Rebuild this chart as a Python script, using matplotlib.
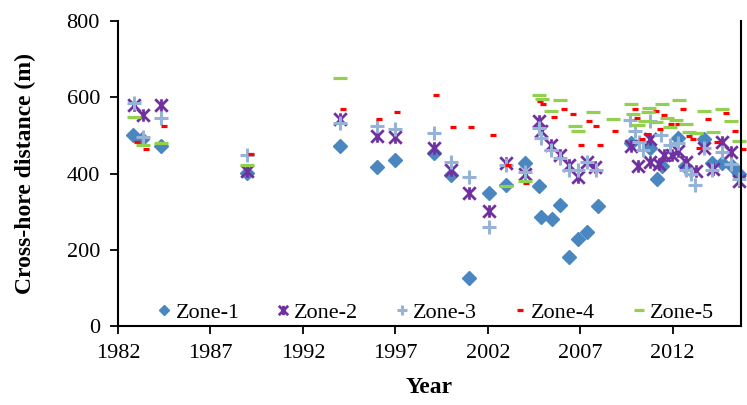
import numpy as np
import matplotlib
matplotlib.use("Agg")
import matplotlib.pyplot as plt
from matplotlib.path import Path

plt.rcParams["font.family"] = ["Liberation Serif", "DejaVu Serif"]

# Zone-1
z1_year = [1982.8, 1983.3, 1984.3, 1989.0, 1994.0, 1996.0, 1997.0, 1999.1, 2000.0,
           2001.0, 2002.05, 2003.0, 2004.0, 2004.75, 2004.9, 2005.45, 2005.9, 2006.4,
           2006.9, 2007.35, 2007.95, 2009.75, 2010.75, 2011.15, 2011.45, 2012.3,
           2012.65, 2013.7, 2014.15, 2014.65, 2015.2, 2015.6]
z1_dist = [502, 490, 473, 402, 473, 418, 436, 453, 396,
           126, 350, 370, 427, 368, 286, 280, 317, 182,
           229, 247, 316, 481, 466, 386, 420, 493,
           420, 490, 427, 427, 420, 400]

# Zone-2
z2_year = [1982.85, 1983.35, 1984.3, 1989.0, 1994.0, 1996.0, 1997.0, 1999.1, 2000.0,
           2001.0, 2002.05, 2003.0, 2004.0, 2004.75, 2004.9, 2005.4, 2005.9, 2006.4,
           2006.9, 2007.35, 2007.8, 2009.75, 2010.15, 2010.8, 2010.8, 2011.25,
           2011.55, 2011.95, 2012.3, 2012.7, 2013.25, 2013.7, 2014.2, 2014.65,
           2015.15, 2015.6]
z2_dist = [581, 554, 579, 407, 544, 499, 495, 466, 409,
           349, 302, 427, 400, 537, 512, 475, 449, 422,
           390, 430, 416, 473, 421, 490, 431, 424,
           449, 449, 460, 430, 407, 468, 411, 484,
           457, 380]

# Zone-3
z3_year = [1982.85, 1983.35, 1984.3, 1989.0, 1994.0, 1996.0, 1997.0, 1999.1, 2000.0,
           2001.0, 2002.05, 2003.0, 2004.0, 2004.75, 2004.9, 2005.4, 2005.9, 2006.4,
           2006.9, 2007.35, 2007.85, 2009.7, 2009.95, 2010.2, 2010.4, 2010.75,
           2011.35, 2011.85, 2012.3, 2012.7, 2013.0, 2013.2, 2013.7, 2014.15,
           2014.65, 2015.15, 2015.6]
z3_dist = [585, 495, 546, 449, 532, 525, 517, 506, 431,
           390, 260, 423, 403, 519, 493, 462, 440, 409,
           409, 431, 409, 541, 511, 484, 462, 537,
           502, 475, 480, 409, 400, 370, 466, 409,
           457, 425, 385]

# Zone-4
z4_year = [1983.0, 1983.5, 1984.5, 1989.2, 1994.15, 1996.1, 1997.1, 1999.2, 2000.1,
           2001.1, 2002.3, 2003.1, 2004.05, 2004.85, 2005.0, 2005.6, 2006.1, 2006.6,
           2007.05, 2007.5, 2007.85, 2008.05, 2008.9, 2009.95, 2010.05, 2010.35,
           2010.6, 2011.1, 2011.3, 2011.55, 2011.9, 2012.3, 2012.55, 2012.9,
           2013.1, 2013.4, 2013.9, 2014.4, 2014.9, 2015.35, 2015.8]
z4_dist = [483, 464, 525, 451, 569, 543, 561, 605, 522,
           522, 501, 422, 376, 590, 583, 548, 569, 556,
           474, 538, 525, 474, 511, 569, 546, 490,
           504, 563, 517, 554, 531, 531, 569, 499,
           490, 466, 543, 482, 559, 511, 464]

# Zone-5
z5_year = [1982.85, 1983.35, 1984.3, 1989.0, 1994.0, 2003.0, 2004.0, 2004.75, 2004.95,
           2005.4, 2005.9, 2006.7, 2006.9, 2007.7, 2008.75, 2009.75, 2009.85, 2010.15,
           2010.5, 2010.65, 2010.7, 2011.1, 2011.4, 2011.7, 2011.85, 2012.2, 2012.35,
           2012.75, 2012.9, 2013.25, 2013.7, 2014.2, 2014.65, 2015.15, 2015.6]
z5_dist = [548, 474, 480, 422, 651, 367, 380, 607, 596,
           563, 593, 524, 511, 561, 543, 583, 556, 528,
           538, 562, 572, 535, 583, 546, 522, 540, 593,
           530, 509, 506, 564, 509, 569, 538, 485]

x_ticks = [1982, 1987, 1992, 1997, 2002, 2007, 2012]
y_ticks = [0, 200, 400, 600, 800]

# asterisk-style cross: two diagonals plus a vertical bar
star_x = Path([(-1, -1), (1, 1), (-1, 1), (1, -1), (0, -1), (0, 1)],
              [Path.MOVETO, Path.LINETO, Path.MOVETO, Path.LINETO, Path.MOVETO, Path.LINETO])

fig = plt.figure(figsize=(7.47, 4.05), dpi=100)
ax = fig.add_axes([0.158, 0.195, 0.834, 0.753])

ax.plot(z1_year, z1_dist, ls="none", marker="D", ms=7, color="#4A86BF",
        mec="#4A86BF", label="Zone-1", clip_on=False)
ax.plot(z2_year, z2_dist, ls="none", marker=star_x, ms=9, mew=2.0, color="#7030A0",
        label="Zone-2", clip_on=False)
ax.plot(z3_year, z3_dist, ls="none", marker="+", ms=10, mew=2.2, color="#95B3D7",
        label="Zone-3", clip_on=False)
ax.plot(z4_year, z4_dist, ls="none", marker="_", ms=5, mew=2.3, color="#FF0000",
        label="Zone-4", clip_on=False)
ax.plot(z5_year, z5_dist, ls="none", marker="_", ms=10, mew=2.3, color="#92D050",
        label="Zone-5", clip_on=False)

ax.set_xlim(1982, 2015.7)
ax.set_ylim(0, 800)
ax.set_xticks(x_ticks)
ax.set_yticks(y_ticks)
ax.tick_params(direction="out", length=6, width=1.3, labelsize=16, colors="black")
ax.tick_params(axis="y", pad=7)
ax.tick_params(axis="x", pad=7)
for side in ["left", "bottom", "right"]:
    ax.spines[side].set_linewidth(1.5)
ax.spines["top"].set_visible(False)

ax.set_xlabel("Year", fontsize=17, fontweight="bold", labelpad=10)
ax.set_ylabel("Cross-hore distance (m)", fontsize=17, fontweight="bold", labelpad=22)

leg = ax.legend(loc="lower center", bbox_to_anchor=(0.51, -0.055), ncol=5, frameon=False,
                fontsize=16, handlelength=0.6, handletextpad=0.2, columnspacing=1.65,
                markerscale=0.75)

fig.savefig("out.png", dpi=100)
